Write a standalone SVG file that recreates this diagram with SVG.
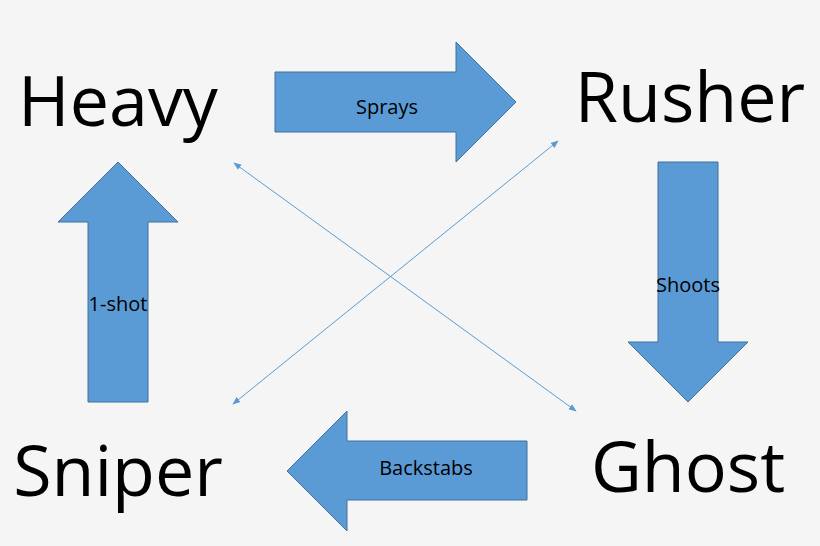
<svg xmlns="http://www.w3.org/2000/svg" width="820" height="546" viewBox="0 0 820 546">
<style>
.big{font-family:"Open Sans","Liberation Sans",sans-serif;font-size:70px;fill:#000;text-anchor:middle}
.lbl{font-family:"Open Sans","Liberation Sans",sans-serif;font-size:20px;fill:#000;text-anchor:middle}
.arr{fill:#5b9bd5;stroke:#41719c;stroke-width:1}
.thin{stroke:#5b9bd5;stroke-width:1;fill:none;marker-start:url(#h);marker-end:url(#h)}
</style>
<defs><marker id="h" viewBox="0 0 10 10" refX="9" refY="5" markerWidth="8" markerHeight="8" orient="auto-start-reverse"><path d="M0,1 L10,5 L0,9 Z" fill="#5b9bd5"/></marker></defs>
<rect width="820" height="546" fill="#f5f5f5"/>
<g id="heavy"><text class="big" x="118" y="126">Heavy</text></g>
<g id="rusher"><text class="big" x="690" y="122">Rusher</text></g>
<g id="sniper"><text class="big" x="118" y="496">Sniper</text></g>
<g id="ghost"><text class="big" x="688" y="492">Ghost</text></g>
<g id="connectors">
<path class="arr" d="M275,72 H456 V42 L516,102 L456,162 V132 H275 Z"/>
<text class="lbl" x="387" y="114">Sprays</text>
<path class="arr" d="M658,162 H718 V342 H748 L688,402 L628,342 H658 Z"/>
<text class="lbl" x="688" y="292">Shoots</text>
<path class="arr" d="M527,441 V500 H347 V531 L287,471 L347,411 V441 Z"/>
<text class="lbl" x="426" y="475">Backstabs</text>
<path class="arr" d="M88,402 V222 H58 L118,162 L178,222 H148 V402 Z"/>
<text class="lbl" x="118" y="311">1-shot</text>
<line class="thin" x1="234" y1="163" x2="576" y2="411"/>
<line class="thin" x1="233" y1="404" x2="558" y2="141"/>
</g>
</svg>
